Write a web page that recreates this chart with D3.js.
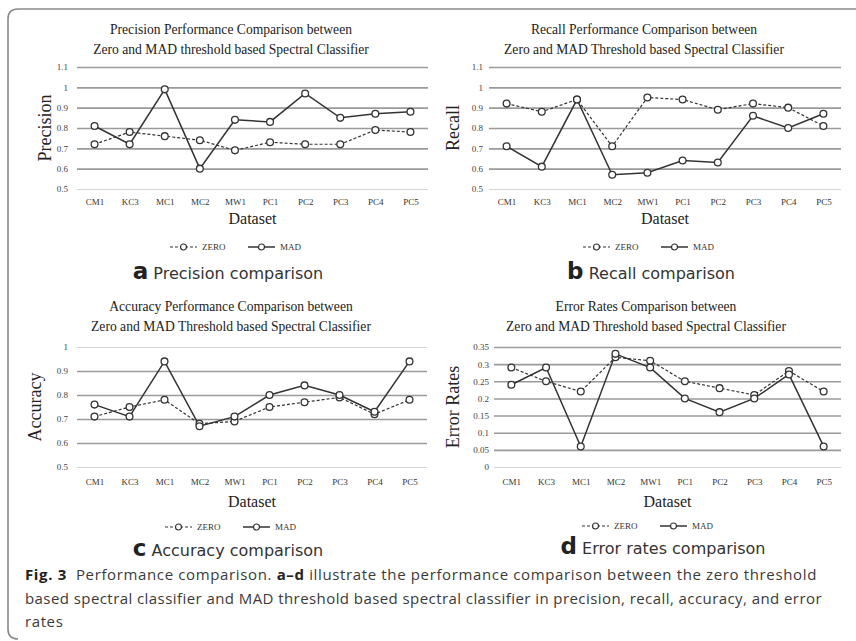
<!DOCTYPE html>
<html>
<head>
<meta charset="utf-8">
<script src="https://cdn.jsdelivr.net/npm/d3@7"></script>
<style>
  body { margin: 0; background: #fff; }
  svg { display: block; }
</style>
</head>
<body>
<svg id="fig" width="856" height="641"></svg>
<script>
// Datasets on the x axis of every panel
const datasets = ["CM1", "KC3", "MC1", "MC2", "MW1", "PC1", "PC2", "PC3", "PC4", "PC5"];

// Precision
const precisionZero = [0.72, 0.78, 0.76, 0.74, 0.69, 0.73, 0.72, 0.72, 0.79, 0.78];
const precisionMad  = [0.81, 0.72, 0.99, 0.60, 0.84, 0.83, 0.97, 0.85, 0.87, 0.88];

// Recall
const recallZero = [0.92, 0.88, 0.94, 0.71, 0.95, 0.94, 0.89, 0.92, 0.90, 0.81];
const recallMad  = [0.71, 0.61, 0.94, 0.57, 0.58, 0.64, 0.63, 0.86, 0.80, 0.87];

// Accuracy
const accuracyZero = [0.71, 0.75, 0.78, 0.68, 0.69, 0.75, 0.77, 0.79, 0.72, 0.78];
const accuracyMad  = [0.76, 0.71, 0.94, 0.67, 0.71, 0.80, 0.84, 0.80, 0.73, 0.94];

// Error rates
const errorZero = [0.29, 0.25, 0.22, 0.32, 0.31, 0.25, 0.23, 0.21, 0.28, 0.22];
const errorMad  = [0.24, 0.29, 0.06, 0.33, 0.29, 0.20, 0.16, 0.20, 0.27, 0.06];

// Y tick values
const precisionTicks = [0.5, 0.6, 0.7, 0.8, 0.9, 1.0, 1.1];
const recallTicks    = [0.5, 0.6, 0.7, 0.8, 0.9, 1.0, 1.1];
const accuracyTicks  = [0.5, 0.6, 0.7, 0.8, 0.9, 1.0];
const errorTicks     = [0, 0.05, 0.1, 0.15, 0.2, 0.25, 0.3, 0.35];

const seriesNames = ["ZERO", "MAD"];

const captionLines = [
  [{t: "Fig. 3", b: true}, {t: "\u00a0 Performance comparison. "}, {t: "a\u2013d", b: true},
   {t: " illustrate the performance comparison between the zero threshold"}],
  [{t: "based spectral classifier and MAD threshold based spectral classifier in precision, recall, accuracy, and error"}],
  [{t: "rates"}]
];
// Set width of each full caption line (last line is left natural)
const captionWidths = [792, 797, null];

// Layout of the four panels
const panels = [
  { letter: "a", sub: "Precision comparison",
    title: ["Precision Performance Comparison between", "Zero and MAD threshold based Spectral Classifier"],
    yLabel: "Precision", zero: precisionZero, mad: precisionMad, ticks: precisionTicks,
    x0: 77, x1: 428, yTop: 67, yBot: 189, tickPad: 9, titleX: 231, titleY: 34,
    yLabX: 51, legX: 170, legY: 247, subX: 228, subY: 279, xPad: 10, lightTop: false },
  { letter: "b", sub: "Recall comparison",
    title: ["Recall Performance Comparison between", "Zero and MAD Threshold based Spectral Classifier"],
    yLabel: "Recall", zero: recallZero, mad: recallMad, ticks: recallTicks,
    x0: 489, x1: 841, yTop: 67, yBot: 189, tickPad: 6, titleX: 644, titleY: 34,
    yLabX: 459, legX: 583, legY: 247, subX: 651, subY: 279, xPad: 10, lightTop: false },
  { letter: "c", sub: "Accuracy comparison",
    title: ["Accuracy Performance Comparison between", "Zero and MAD Threshold based Spectral Classifier"],
    yLabel: "Accuracy", zero: accuracyZero, mad: accuracyMad, ticks: accuracyTicks,
    x0: 77, x1: 427, yTop: 347, yBot: 467, tickPad: 9, titleX: 231, titleY: 311,
    yLabX: 41, legX: 165, legY: 527, subX: 228, subY: 556, xPad: 12, lightTop: true },
  { letter: "d", sub: "Error rates comparison",
    title: ["Error Rates Comparison between", "Zero and MAD Threshold based Spectral Classifier"],
    yLabel: "Error Rates", zero: errorZero, mad: errorMad, ticks: errorTicks,
    x0: 494, x1: 841, yTop: 347, yBot: 467, tickPad: 5, titleX: 646, titleY: 311,
    yLabX: 459, legX: 582, legY: 526, subX: 663, subY: 554, xPad: 12, lightTop: false }
];

const svg = d3.select("#fig");
const serif = "'Liberation Serif', 'Times New Roman', serif";
const ink = "#333";

// Figure frame: top rule and rounded left edge
svg.append("path")
  .attr("d", "M856,9 L18,9 Q8,9 8,19 L8,629 Q8,639 18,639")
  .attr("fill", "none").attr("stroke", "#8a8a8a").attr("stroke-width", 1.6);

const fmt = d3.format("~g");

panels.forEach(p => {
  const g = svg.append("g");
  const x = d3.scalePoint().domain(datasets).range([p.x0, p.x1]).padding(0.5);
  const y = d3.scaleLinear().domain(d3.extent(p.ticks)).range([p.yBot, p.yTop]);

  // Title
  const title = g.append("text")
    .attr("x", p.titleX).attr("y", p.titleY)
    .attr("text-anchor", "middle")
    .style("font-family", serif).style("font-size", "13.6px").attr("fill", "#222");
  p.title.forEach((line, i) => {
    title.append("tspan").attr("x", p.titleX).attr("dy", i === 0 ? 0 : 20).text(line);
  });

  // Y axis with horizontal gridlines
  const yAxis = g.append("g")
    .attr("transform", `translate(${p.x0},0)`)
    .call(d3.axisLeft(y).tickValues(p.ticks).tickFormat(fmt)
      .tickSize(-(p.x1 - p.x0)).tickPadding(p.tickPad));
  yAxis.select(".domain").remove();
  const isLight = (d, i, n) => d === p.ticks[0] || (p.lightTop && i === n.length - 1);
  yAxis.selectAll(".tick line")
    .attr("stroke", (d, i, n) => isLight(d, i, n) ? "#d4d4d4" : "#9a9a9a")
    .attr("stroke-width", (d, i, n) => isLight(d, i, n) ? 1 : 1.6);
  yAxis.selectAll(".tick text")
    .style("font-family", serif).style("font-size", "9px").attr("fill", "#444");

  // X axis labels
  const xAxis = g.append("g")
    .attr("transform", `translate(0,${p.yBot})`)
    .call(d3.axisBottom(x).tickSize(0).tickPadding(p.xPad));
  xAxis.select(".domain").remove();
  xAxis.selectAll(".tick text")
    .style("font-family", serif).style("font-size", "9px").attr("fill", "#333");

  // Axis titles
  g.append("text")
    .attr("x", (p.x0 + p.x1) / 2).attr("y", p.yBot + (p.yBot < 300 ? 35 : 40))
    .attr("text-anchor", "middle")
    .style("font-family", serif).style("font-size", "16px").attr("fill", "#222")
    .text("Dataset");
  g.append("text")
    .attr("transform", `translate(${p.yLabX},${(p.yTop + p.yBot) / 2}) rotate(-90)`)
    .attr("text-anchor", "middle")
    .style("font-family", serif).style("font-size", "18px").attr("fill", "#222")
    .text(p.yLabel);

  // Series lines and markers
  const line = d3.line().x((d, i) => x(datasets[i])).y(d => y(d));
  const series = [
    { name: seriesNames[0], values: p.zero, dash: "3,2", width: 1.2 },
    { name: seriesNames[1], values: p.mad, dash: null, width: 1.5 }
  ];
  series.forEach(s => {
    g.append("path")
      .datum(s.values)
      .attr("d", line)
      .attr("fill", "none").attr("stroke", ink)
      .attr("stroke-width", s.width)
      .attr("stroke-dasharray", s.dash);
  });
  series.forEach(s => {
    g.selectAll(null).data(s.values).enter().append("circle")
      .attr("cx", (d, i) => x(datasets[i])).attr("cy", d => y(d))
      .attr("r", 3.4).attr("fill", "#fff").attr("stroke", ink).attr("stroke-width", 1.3);
  });

  // Legend
  const leg = g.append("g").attr("transform", `translate(${p.legX},${p.legY})`);
  series.forEach((s, i) => {
    const ox = i * 78;
    leg.append("line").attr("x1", ox).attr("x2", ox + 27).attr("y1", 0).attr("y2", 0)
      .attr("stroke", ink).attr("stroke-width", s.width).attr("stroke-dasharray", s.dash);
    leg.append("circle").attr("cx", ox + 13.5).attr("cy", 0).attr("r", 3)
      .attr("fill", "#fff").attr("stroke", ink).attr("stroke-width", 1.2);
    leg.append("text").attr("x", ox + 32).attr("y", 3)
      .style("font-family", serif).style("font-size", "9px").attr("fill", "#333")
      .text(s.name);
  });

  // Panel sub-caption
  const sub = g.append("text")
    .attr("x", p.subX).attr("y", p.subY).attr("text-anchor", "middle")
    .style("font-family", "'DejaVu Sans', Verdana, sans-serif").attr("fill", "#222");
  sub.append("tspan").style("font-size", "23px").style("font-weight", "bold").text(p.letter);
  sub.append("tspan").style("font-size", "16px").attr("fill", "#333").text(" " + p.sub);
});

// Figure caption, each full line spread to its set width
captionLines.forEach((parts, i) => {
  const t = svg.append("text")
    .attr("x", 25).attr("y", 580 + i * 23.5)
    .style("font-family", "'Open Sans', 'Noto Sans', sans-serif")
    .style("font-size", "15px")
    .attr("fill", "#3a3a3a");
  parts.forEach(part => {
    t.append("tspan").style("font-weight", part.b ? "bold" : "normal")
      .attr("fill", part.b ? "#222" : "#3a3a3a").text(part.t);
  });
  const target = captionWidths[i];
  if (target) {
    const natural = t.node().getComputedTextLength();
    const chars = parts.reduce((n, part) => n + part.t.length, 0);
    t.style("letter-spacing", ((target - natural) / chars).toFixed(3) + "px");
  } else {
    t.style("letter-spacing", "0.6px");
  }
});
</script>
</body>
</html>
